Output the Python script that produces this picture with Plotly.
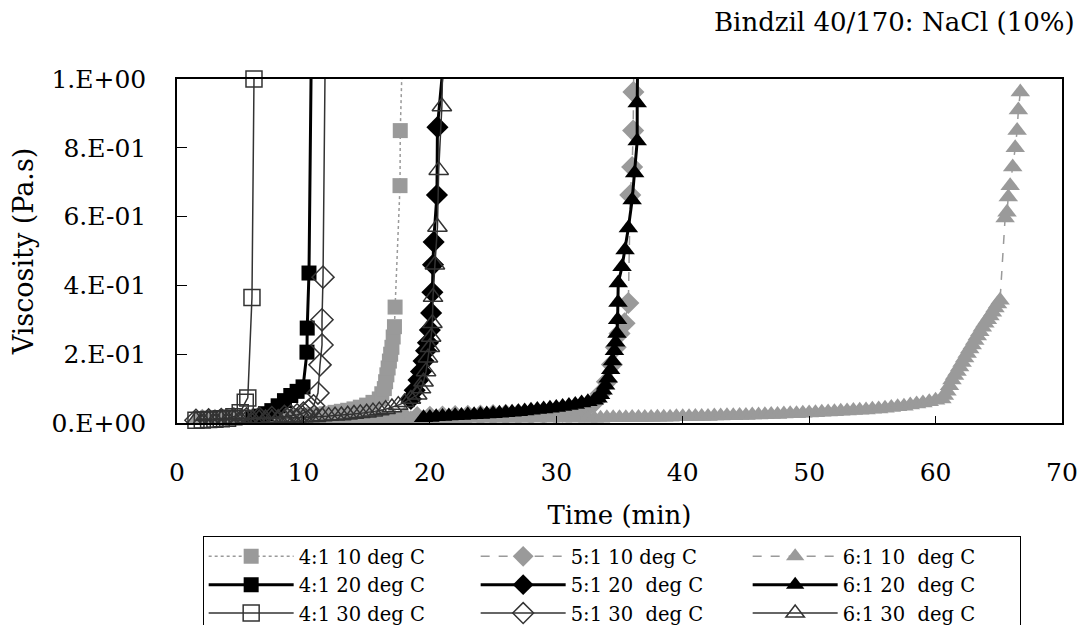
import plotly.graph_objects as go

# ---------------- data ----------------
title_text = "Bindzil 40/170: NaCl (10%)"
x_title = "Time (min)"
y_title = "Viscosity (Pa.s)"
x_tickvals = [0, 10, 20, 30, 40, 50, 60, 70]
x_ticktext = ["0", "10", "20", "30", "40", "50", "60", "70"]
y_tickvals = [0, 0.2, 0.4, 0.6, 0.8, 1.0]
y_ticktext = ["0.E+00", "2.E-01", "4.E-01", "6.E-01", "8.E-01", "1.E+00"]

# 4:1 10 deg C
x_41_10 = [1.8, 2.8, 3.8, 4.8, 5.8, 6.8, 7.8, 8.8, 9.8, 10.8, 11.8, 12.5, 13.0, 13.5, 14.0,
           14.5, 15.0, 15.5, 16.0, 16.2, 16.4, 16.5, 16.6, 16.7, 16.8, 16.9, 17.0, 17.1, 17.2,
           17.25, 17.64, 17.66, 17.85]
y_41_10 = [0.010, 0.011, 0.012, 0.013, 0.014, 0.015, 0.017, 0.019, 0.021, 0.024, 0.027, 0.031, 0.034, 0.037, 0.041,
           0.046, 0.052, 0.060, 0.070, 0.085, 0.100, 0.120, 0.140, 0.160, 0.180, 0.200, 0.220, 0.250, 0.280,
           0.337, 0.690, 0.850, 1.100]

# 5:1 10 deg C
x_51_10 = [2.0, 3.0, 4.0, 5.0, 6.0, 7.0, 8.0, 9.0, 10.0, 11.0, 12.0, 13.0, 14.0, 15.0, 16.0,
           17.0, 18.0, 19.0, 20.0, 21.0, 22.0, 23.0, 24.0, 25.0, 26.0, 27.0, 28.0, 29.0, 30.0,
           30.5, 31.0, 31.5, 32.0, 32.5, 33.0, 33.5, 34.0, 34.4, 34.7, 35.0, 35.4, 35.7, 35.85, 36.0,
           36.08, 36.1, 36.15]
y_51_10 = [0.009, 0.009, 0.009, 0.010, 0.010, 0.010, 0.011, 0.011, 0.012, 0.012, 0.013, 0.013, 0.014, 0.014, 0.015,
           0.016, 0.016, 0.017, 0.018, 0.019, 0.020, 0.021, 0.022, 0.023, 0.024, 0.025, 0.027, 0.029, 0.031,
           0.033, 0.035, 0.038, 0.042, 0.048, 0.060, 0.085, 0.120, 0.170, 0.220, 0.260, 0.290, 0.349, 0.663, 0.744,
           0.850, 0.962, 1.100]

# 6:1 10 deg C
x_61_10 = [1.5, 2.5, 3.5, 4.5, 5.5, 6.5, 7.5, 8.5, 9.5, 10.5,
           11.5, 12.5, 13.5, 14.5, 15.5, 16.5, 17.5, 18.5, 19.5, 20.5,
           21.5, 22.5, 23.5, 24.5, 25.5, 26.5, 27.5, 28.5, 29.5, 30.5, 31.5, 32.5,
           33.0, 33.5, 34.0, 34.5, 35.0, 35.5, 36.0, 36.5, 37.0, 37.5, 38.0, 38.5, 39.0, 39.5,
           40.0, 40.5, 41.0, 41.5, 42.0, 42.5, 43.0, 43.5, 44.0, 44.5, 45.0, 45.5, 46.0, 46.5,
           47.0, 47.5, 48.0, 48.5, 49.0, 49.5, 50.0, 50.5, 51.0, 51.5, 52.0, 52.5, 53.0, 53.5,
           54.0, 54.5, 55.0, 55.5, 56.0, 56.5, 57.0, 57.5, 58.0, 58.5, 59.0, 59.5, 60.0,
           60.5, 60.7, 60.9, 61.1, 61.3, 61.5, 61.7, 61.9, 62.1, 62.3, 62.5, 62.7, 62.9, 63.1,
           63.3, 63.5, 63.7, 63.9, 64.1, 64.3, 64.5, 64.7, 64.9, 65.1,
           65.5, 65.65, 65.75, 65.9, 66.1, 66.3, 66.45, 66.55, 66.7]
y_61_10 = [0.008, 0.008, 0.008, 0.009, 0.009, 0.009, 0.009, 0.010, 0.010, 0.010,
           0.010, 0.010, 0.011, 0.011, 0.011, 0.011, 0.012, 0.012, 0.012, 0.012,
           0.012, 0.012, 0.013, 0.013, 0.013, 0.013, 0.013, 0.014, 0.014, 0.014, 0.014, 0.014,
           0.014, 0.014, 0.015, 0.015, 0.015, 0.015, 0.016, 0.016, 0.016, 0.016, 0.017, 0.017, 0.017, 0.018,
           0.018, 0.018, 0.019, 0.019, 0.019, 0.020, 0.020, 0.021, 0.021, 0.022, 0.022, 0.023, 0.023, 0.024,
           0.025, 0.025, 0.026, 0.027, 0.027, 0.028, 0.029, 0.030, 0.031, 0.032, 0.033, 0.034, 0.035, 0.036,
           0.037, 0.038, 0.040, 0.041, 0.043, 0.045, 0.047, 0.049, 0.052, 0.055, 0.058, 0.062, 0.066,
           0.070, 0.080, 0.092, 0.108, 0.125, 0.138, 0.150, 0.163, 0.176, 0.189, 0.202, 0.215, 0.227, 0.240,
           0.253, 0.265, 0.278, 0.290, 0.300, 0.311, 0.322, 0.334, 0.346, 0.357,
           0.596, 0.613, 0.657, 0.690, 0.744, 0.800, 0.850, 0.910, 0.962]

# 4:1 20 deg C
x_41_20 = [6.0, 6.5, 7.0, 7.5, 8.0, 8.5, 9.0, 9.5, 9.97, 10.28, 10.3, 10.44, 10.63]
y_41_20 = [0.015, 0.020, 0.027, 0.036, 0.050, 0.065, 0.080, 0.092, 0.105, 0.206, 0.276, 0.436, 1.100]

# 5:1 20 deg C
x_51_20 = [18.5, 18.8, 19.1, 19.3, 19.5, 19.7, 19.85, 20.0, 20.1, 20.2, 20.25, 20.3, 20.56, 20.6, 21.2]
y_51_20 = [0.070, 0.095, 0.125, 0.150, 0.180, 0.210, 0.233, 0.270, 0.320, 0.380, 0.460, 0.526, 0.663, 0.860, 1.100]

# 6:1 20 deg C
x_61_20 = [19.5, 20.0, 20.5, 21.0, 21.5, 22.0, 22.5, 23.0, 23.5, 24.0, 24.5, 25.0, 25.5, 26.0,
           26.5, 27.0, 27.5, 28.0, 28.5, 29.0, 29.5, 30.0, 30.5, 31.0, 31.5, 32.0, 32.5, 33.0,
           33.3, 33.5, 33.7, 33.9, 34.1, 34.3, 34.45, 34.6, 34.7, 34.8, 34.85, 34.88, 34.9,
           35.2, 35.44, 35.7, 36.0, 36.2, 36.4, 36.4, 36.45]
y_61_20 = [0.015, 0.016, 0.018, 0.019, 0.020, 0.021, 0.022, 0.023, 0.024, 0.025, 0.026, 0.027, 0.028, 0.030,
           0.031, 0.033, 0.035, 0.037, 0.039, 0.041, 0.043, 0.045, 0.048, 0.051, 0.054, 0.058, 0.062, 0.066,
           0.072, 0.082, 0.095, 0.110, 0.130, 0.155, 0.180, 0.210, 0.235, 0.260, 0.300, 0.350, 0.407,
           0.454, 0.503, 0.567, 0.648, 0.727, 0.820, 0.930, 1.100]

# 4:1 30 deg C
x_41_30 = [1.5, 2.0, 2.5, 3.0, 3.5, 4.0, 4.5, 5.0, 5.4, 5.6, 5.93, 6.09]
y_41_30 = [0.008, 0.009, 0.010, 0.011, 0.012, 0.014, 0.018, 0.030, 0.060, 0.073, 0.365, 1.000]

# 5:1 30 deg C
x_51_30 = [1.5, 2.5, 3.5, 4.5, 5.5, 6.5, 7.5, 8.5, 9.0, 9.5, 10.0, 10.4, 10.8, 11.15,
           11.31, 11.47, 11.47, 11.55, 11.73]
y_51_30 = [0.008, 0.009, 0.010, 0.011, 0.012, 0.014, 0.016, 0.019, 0.021, 0.024, 0.029, 0.036, 0.050, 0.087,
           0.169, 0.227, 0.300, 0.424, 1.100]

# 6:1 30 deg C
x_61_30 = [1.5, 2.0, 2.5, 3.0, 3.5, 4.0, 4.5, 5.0, 5.5, 6.0, 6.5, 7.0, 7.5, 8.0, 8.5, 9.0, 9.5, 10.0,
           10.5, 11.0, 11.5, 12.0, 12.5, 13.0, 13.5,
           14.0, 14.5, 15.0, 15.5, 16.0, 16.5, 17.0, 17.5, 18.0, 18.5, 19.0, 19.3, 19.5, 19.7, 19.85,
           20.0, 20.1, 20.2, 20.25, 20.4, 20.6, 20.7, 20.95, 21.05]
y_61_30 = [0.008, 0.008, 0.009, 0.009, 0.010, 0.010, 0.011, 0.011, 0.012, 0.012, 0.013, 0.013, 0.014, 0.014,
           0.015, 0.015, 0.016, 0.016,
           0.017, 0.017, 0.019, 0.020, 0.021, 0.022, 0.024,
           0.026, 0.028, 0.030, 0.033, 0.036, 0.040, 0.045, 0.052, 0.060, 0.070, 0.082, 0.100, 0.120, 0.150, 0.190,
           0.220, 0.250, 0.290, 0.366, 0.460, 0.570, 0.735, 0.920, 1.100]

# ---------------- styling ----------------
FONT = "DejaVu Serif"
GRAY = "#9a9a9a"
DARK = "#333333"

series = [
    # name, x, y, symbol, marker colour, line colour, width, dash, size, clip
    ("4:1 10 deg C", x_41_10, y_41_10, "square", GRAY, GRAY, 1.5, "dot", 15, True),
    ("5:1 10 deg C", x_51_10, y_51_10, "diamond", GRAY, GRAY, 1.5, "dash", 17, True),
    ("6:1 10 \u00a0deg C", x_61_10, y_61_10, "triangle-up", GRAY, GRAY, 1.5, "dash", 17, False),
    ("4:1 20 deg C", x_41_20, y_41_20, "square", "black", "black", 3, "solid", 15, True),
    ("5:1 20 \u00a0deg C", x_51_20, y_51_20, "diamond", "black", "black", 3, "solid", 17, True),
    ("6:1 20 \u00a0deg C", x_61_20, y_61_20, "triangle-up", "black", "black", 3, "solid", 17, True),
    ("4:1 30 deg C", x_41_30, y_41_30, "square-open", DARK, DARK, 1.5, "solid", 16, False),
    ("5:1 30 \u00a0deg C", x_51_30, y_51_30, "diamond-open", DARK, DARK, 1.5, "solid", 17, True),
    ("6:1 30 \u00a0deg C", x_61_30, y_61_30, "triangle-up-open", DARK, DARK, 1.5, "solid", 17, True),
]

fig = go.Figure()
for name, xs, ys, sym, mcol, lcol, lw, dash, size, clip in series:
    open_sym = sym.endswith("open")
    fig.add_trace(go.Scatter(
        x=xs, y=ys, name=name, mode="lines+markers",
        line=dict(color=lcol, width=lw, dash=dash),
        marker=dict(symbol=sym, size=size, color=mcol,
                    line=dict(color=mcol, width=1.5 if open_sym else 0)),
        cliponaxis=clip,
    ))

fig.update_layout(
    width=1083, height=625,
    margin=dict(l=177, r=21, t=79, b=202, autoexpand=False),
    paper_bgcolor="white", plot_bgcolor="white",
    font=dict(family=FONT, size=25, color="black"),
    showlegend=True,
    legend=dict(
        orientation="h", x=0.029, xanchor="left", y=-0.329, yanchor="top",
        entrywidth=172, entrywidthmode="pixels", itemwidth=85,
        bordercolor="black", borderwidth=1, bgcolor="white",
        font=dict(family=FONT, size=19.5, color="black"),
        traceorder="normal",
    ),
    annotations=[dict(
        text=title_text, xref="paper", yref="paper", x=1.017, y=1.166,
        xanchor="right", yanchor="middle", showarrow=False,
        font=dict(family=FONT, size=26, color="black"),
    )],
)

fig.update_xaxes(
    range=[0, 70], tickvals=x_tickvals, ticktext=x_ticktext,
    ticks="inside", ticklen=7, tickcolor="black", ticklabelstandoff=26,
    showline=True, linecolor="black", linewidth=1.5, mirror=True,
    showgrid=False, zeroline=False,
    title=dict(text=x_title, standoff=20, font=dict(family=FONT, size=26)),
)
fig.update_yaxes(
    range=[0, 1], tickvals=y_tickvals, ticktext=y_ticktext,
    ticks="inside", ticklen=10, tickcolor="black", ticklabelstandoff=24,
    showline=True, linecolor="black", linewidth=1.5, mirror=True,
    showgrid=False, zeroline=False,
    title=dict(text=y_title, standoff=10, font=dict(family=FONT, size=27)),
)

fig.write_html("out.html")
